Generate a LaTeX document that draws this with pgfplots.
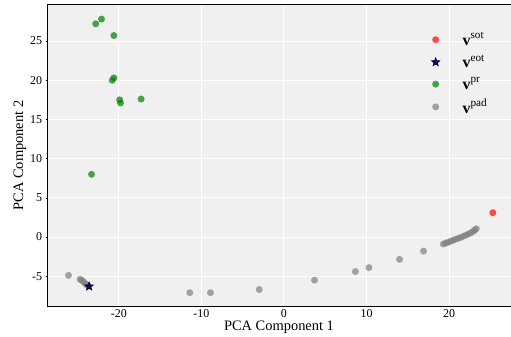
\documentclass[border=0pt]{standalone}
\usepackage{pgfplots}
\pgfplotsset{compat=1.18}
\usepackage{fontspec}
\setmainfont{Liberation Serif}
\definecolor{bgcol}{HTML}{F0F0F0}
\definecolor{cred}{HTML}{FF0000}
\definecolor{cgreen}{HTML}{008000}
\definecolor{cgray}{HTML}{808080}
\definecolor{cblue}{HTML}{0000CC}
\pgfdeclareplotmark{fstar}{%
  \pgfpathmoveto{\pgfpointpolar{90}{\pgfplotmarksize}}%
  \pgfpathlineto{\pgfpointpolar{126}{0.42\pgfplotmarksize}}%
  \pgfpathlineto{\pgfpointpolar{162}{\pgfplotmarksize}}%
  \pgfpathlineto{\pgfpointpolar{198}{0.42\pgfplotmarksize}}%
  \pgfpathlineto{\pgfpointpolar{234}{\pgfplotmarksize}}%
  \pgfpathlineto{\pgfpointpolar{270}{0.42\pgfplotmarksize}}%
  \pgfpathlineto{\pgfpointpolar{306}{\pgfplotmarksize}}%
  \pgfpathlineto{\pgfpointpolar{342}{0.42\pgfplotmarksize}}%
  \pgfpathlineto{\pgfpointpolar{18}{\pgfplotmarksize}}%
  \pgfpathlineto{\pgfpointpolar{54}{0.42\pgfplotmarksize}}%
  \pgfpathclose
  \pgfusepathqfillstroke
}
\newcommand{\lent}[1]{\hspace*{21pt}\textbf{v}\textsuperscript{#1}}
\pgfplotsset{
  graydot/.style={only marks, mark=*, mark size=3.5pt, mark options={fill=cgray, fill opacity=0.7, draw opacity=0}},
}
\begin{document}
\begin{tikzpicture}
\begin{axis}[
  scale only axis, width=464bp, height=301bp,
  xmin=-28.7, xmax=27.5, ymin=-8.8, ymax=29.6,
  xtick={-20,-10,0,10,20}, ytick={-5,0,5,10,15,20,25},
  axis background/.style={fill=bgcol},
  grid=major, major grid style={white, line width=1pt},
  axis line style={draw=none},
  tick style={black, line width=0.5pt}, major tick length=1.5pt, tick align=outside,
  xtick pos=bottom, ytick pos=left,
  ticklabel style={font=\fontsize{12}{12}\selectfont},
  xticklabel style={yshift=1pt},
  /pgf/number format/assume math mode=true,
  xlabel={PCA Component 1}, ylabel={PCA Component 2},
  label style={font=\fontsize{14.5}{14.5}\selectfont},
  xlabel style={at={([yshift=-21.5bp]rel axis cs:0.5,0)}, anchor=center},
  ylabel style={at={([xshift=-27bp]rel axis cs:0,0.5)}, anchor=center},
  legend style={draw=none, fill=none, at={(0.822,0.922)}, anchor=north west,
    font=\fontsize{16}{16}\selectfont, row sep=4.5pt},
  legend cell align=left,
  after end axis/.code={
    \draw[black, line width=1pt] (rel axis cs:0,1) -- (rel axis cs:0,0) -- (rel axis cs:1,0);
    \draw[black, line width=1pt] (rel axis cs:0,1) -- (rel axis cs:1,1);
  },
]
\addplot[graydot, forget plot] coordinates {
(-26.1,-4.9) (-24.7,-5.4) (-24.5,-5.5) (-24.3,-5.7) (-24.1,-5.9) (-23.9,-6.1) (-23.7,-6.25)
(-11.4,-7.1) (-8.9,-7.1) (-3.0,-6.7) (3.7,-5.5) (8.65,-4.4) (10.3,-3.9) (14.0,-2.85) (16.9,-1.8)
(19.3,-0.90) (19.6,-0.78) (19.9,-0.66) (20.2,-0.53) (20.5,-0.41) (20.8,-0.29) (21.1,-0.17)
(21.4,-0.05) (21.7,0.08) (22.0,0.22) (22.3,0.36) (22.6,0.52) (22.9,0.70) (23.1,0.88) (23.3,1.06)};
\addplot[only marks, mark=*, mark size=3.5pt, mark options={fill=cred, fill opacity=0.7, draw opacity=0}] coordinates {(25.3,3.1)};
\addlegendentry{\lent{sot}}
\addplot[only marks, mark=fstar, mark size=4.3pt, mark options={draw=black, fill=cblue, line width=0.7pt}] coordinates {(-23.6,-6.3)};
\addlegendentry{\lent{eot}}
\addplot[only marks, mark=*, mark size=3.5pt, mark options={fill=cgreen, fill opacity=0.7, draw opacity=0}] coordinates {
(-22.8,27.2) (-22.1,27.8) (-20.6,25.7) (-20.6,20.3) (-20.8,20.0)
(-19.9,17.5) (-19.8,17.1) (-17.3,17.6) (-23.3,8.0)};
\addlegendentry{\lent{pr}}
\addlegendimage{graydot}
\addlegendentry{\lent{pad}}
\end{axis}
\pgfresetboundingbox
\path[use as bounding box] ([shift={(-47bp,-31bp)}]current axis.south west) rectangle ([shift={(464bp,306bp)}]current axis.south west);
\end{tikzpicture}
\end{document}
